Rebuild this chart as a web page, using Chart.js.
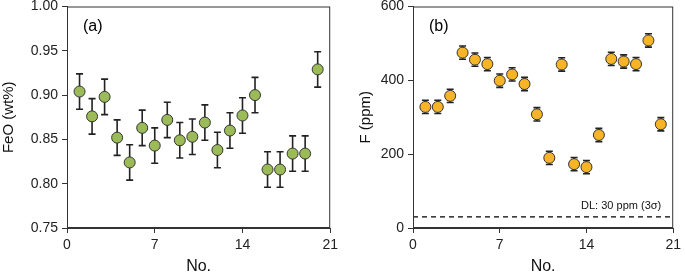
<!DOCTYPE html>
<html>
<head>
<meta charset="utf-8">
<script src="https://cdn.jsdelivr.net/npm/chart.js@4"></script>
<style>
  body { margin: 0; background: #fff; }
  .panel { position: absolute; top: 0; height: 277px; }
</style>
</head>
<body>
<div class="panel" style="left:0;width:342px"><canvas id="chartA" width="342" height="277"></canvas></div>
<div class="panel" style="left:342px;width:343px"><canvas id="chartB" width="343" height="277"></canvas></div>
<script>
const sampleNo = [1, 2, 3, 4, 5, 6, 7, 8, 9, 10, 11, 12, 13, 14, 15, 16, 17, 18, 19, 20];
const feo = [0.904, 0.876, 0.898, 0.852, 0.824, 0.863, 0.843, 0.872, 0.849, 0.853,
             0.869, 0.838, 0.860, 0.877, 0.900, 0.816, 0.816, 0.834, 0.834, 0.929];
const feoErr = [0.02, 0.02, 0.02, 0.02, 0.02, 0.02, 0.02, 0.02, 0.02, 0.02,
                0.02, 0.02, 0.02, 0.02, 0.02, 0.02, 0.02, 0.02, 0.02, 0.02];
const fluorine = [328, 328, 358, 475, 456, 444, 399, 416, 390, 308,
                  190, 443, 173, 165, 252, 458, 451, 444, 508, 281];
const fluorineErr = [18, 18, 18, 18, 18, 18, 18, 18, 18, 18,
                     18, 18, 18, 18, 18, 18, 18, 18, 18, 18];
const xTicks = [0, 7, 14, 21];
const feoTicks = [0.75, 0.80, 0.85, 0.90, 0.95, 1.00];
const fTicks = [0, 200, 400, 600];
const detectionLimit = 30;

const FONT = "'Liberation Sans', Arial, sans-serif";

// error bars, frame, panel label and extras
const decor = {
  id: 'decor',
  beforeDatasetsDraw(chart, args, opts) {
    const { ctx, chartArea: a, scales: { x, y } } = chart;
    ctx.save();
    if (opts.dl != null) {
      const py = y.getPixelForValue(opts.dl);
      ctx.strokeStyle = '#000';
      ctx.lineWidth = 1.2;
      ctx.setLineDash([5, 4]);
      ctx.beginPath();
      ctx.moveTo(a.left, py);
      ctx.lineTo(a.right, py);
      ctx.stroke();
      ctx.setLineDash([]);
      ctx.fillStyle = '#111';
      ctx.font = '11px ' + FONT;
      ctx.textAlign = 'right';
      ctx.textBaseline = 'alphabetic';
      ctx.fillText(opts.dlText, a.right - 12, py - 8);
    }
    const ds = chart.data.datasets[0];
    ctx.strokeStyle = '#222';
    ctx.lineWidth = 1.6;
    ds.data.forEach((p, i) => {
      const px = x.getPixelForValue(p.x);
      const top = y.getPixelForValue(p.y + opts.err[i]);
      const bot = y.getPixelForValue(p.y - opts.err[i]);
      ctx.beginPath();
      ctx.moveTo(px, top); ctx.lineTo(px, bot);
      ctx.moveTo(px - 3.5, top); ctx.lineTo(px + 3.5, top);
      ctx.moveTo(px - 3.5, bot); ctx.lineTo(px + 3.5, bot);
      ctx.stroke();
    });
    ctx.restore();
  },
  afterDraw(chart, args, opts) {
    const { ctx, chartArea: a } = chart;
    ctx.save();
    ctx.strokeStyle = '#333';
    ctx.lineWidth = 1;
    ctx.strokeRect(a.left + 0.5, a.top + 0.5, a.width - 1, a.height - 1);
    ctx.fillStyle = '#000';
    ctx.font = '16px ' + FONT;
    ctx.textAlign = 'left';
    ctx.textBaseline = 'middle';
    ctx.fillText(opts.label, a.left + 16, a.top + 20);
    ctx.restore();
  }
};

function makeChart(id, values, err, color, yMin, yMax, yTicks, yTitle, label, yWidth, titlePad, extra) {
  return new Chart(document.getElementById(id), {
    type: 'scatter',
    data: {
      datasets: [{
        data: sampleNo.map((n, i) => ({ x: n, y: values[i] })),
        backgroundColor: color,
        borderColor: '#333',
        borderWidth: 1,
        pointRadius: 5.5
      }]
    },
    options: {
      responsive: false,
      animation: false,
      layout: { padding: { top: 6, right: 7, left: 0, bottom: 0 } },
      plugins: {
        legend: { display: false },
        tooltip: { enabled: false },
        decor: Object.assign({ err: err, label: label }, extra)
      },
      scales: {
        x: {
          type: 'linear', min: 0, max: 21,
          afterBuildTicks: s => { s.ticks = xTicks.map(v => ({ value: v })); },
          afterFit: s => { s.height = 49; },
          grid: { drawOnChartArea: false, drawTicks: true, tickLength: 5, color: '#333' },
          border: { color: '#333' },
          ticks: { color: '#222', font: { family: FONT, size: 14 }, padding: 4, maxRotation: 0 },
          title: { display: true, text: 'No.', color: '#111', font: { family: FONT, size: 16 }, padding: { top: 0, bottom: 1 } }
        },
        y: {
          min: yMin, max: yMax,
          afterBuildTicks: s => { s.ticks = yTicks.map(v => ({ value: v })); },
          afterFit: s => { s.width = yWidth; s.paddingTop = 0; s.paddingBottom = 0; },
          grid: { drawOnChartArea: false, drawTicks: true, tickLength: 5, color: '#333' },
          border: { color: '#333' },
          ticks: {
            color: '#222', font: { family: FONT, size: 14 }, padding: 4,
            callback: v => yMax < 10 ? v.toFixed(2) : String(v)
          },
          title: { display: true, text: yTitle, color: '#111', font: { family: FONT, size: 15 }, padding: { top: titlePad, bottom: 0 } }
        }
      }
    },
    plugins: [decor]
  });
}

makeChart('chartA', feo, feoErr, '#9BBB59', 0.75, 1.0, feoTicks, 'FeO (wt%)', '(a)', 67, 0, {});
makeChart('chartB', fluorine, fluorineErr, '#F6B426', 0, 600, fTicks, 'F (ppm)', '(b)', 71, 15,
  { dl: detectionLimit, dlText: 'DL: 30 ppm (3σ)' });
</script>
</body>
</html>
